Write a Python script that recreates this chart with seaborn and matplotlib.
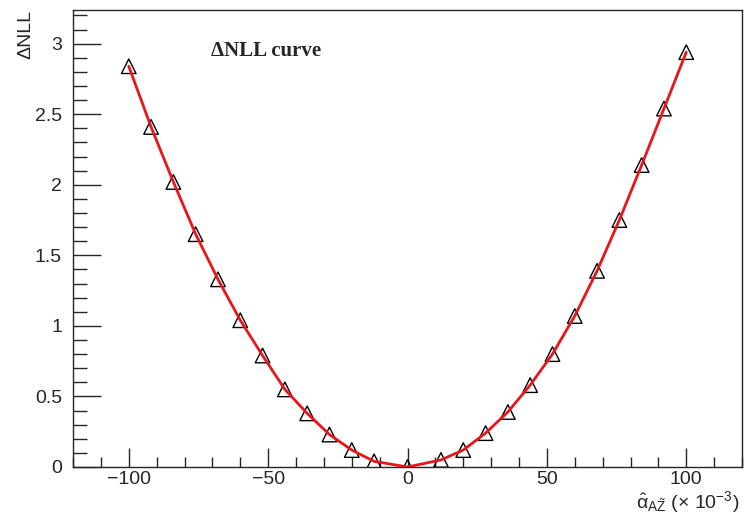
import numpy as np
import pandas as pd
import matplotlib.pyplot as plt
import seaborn as sns
from matplotlib.ticker import MultipleLocator

# scan points
alpha = [-100, -92, -84, -76, -68, -60, -52, -44, -36, -28, -20, -12, 0,
         12, 20, 28, 36, 44, 52, 60, 68, 76, 84, 92, 100]
dnll = [2.84, 2.41, 2.02, 1.65, 1.33, 1.04, 0.79, 0.55, 0.38, 0.23, 0.12, 0.04, 0.0,
        0.05, 0.12, 0.24, 0.39, 0.58, 0.80, 1.07, 1.39, 1.75, 2.14, 2.54, 2.94]

df = pd.DataFrame({"alpha": alpha, "dnll": dnll})

sns.set_style("ticks")
plt.rcParams['font.family'] = ['Liberation Sans', 'DejaVu Sans']
plt.rcParams['mathtext.fontset'] = 'custom'
plt.rcParams['mathtext.rm'] = 'Liberation Sans'
plt.rcParams['mathtext.it'] = 'Liberation Sans'

fig = plt.figure(figsize=(7.45, 5.16), dpi=100)
ax = fig.add_axes([0.098, 0.095, 0.898, 0.886])

sns.scatterplot(data=df, x="alpha", y="dnll", ax=ax, marker="^", s=110,
                facecolor="none", edgecolor="black", linewidth=1.0, zorder=2)
sns.lineplot(data=df, x="alpha", y="dnll", ax=ax, color="#e8161b", lw=2.0,
             zorder=3)

ax.set_xlim(-120, 120)
ax.set_ylim(0, 3.24)
ax.xaxis.set_major_locator(MultipleLocator(50))
ax.xaxis.set_minor_locator(MultipleLocator(10))
ax.yaxis.set_major_locator(MultipleLocator(0.5))
ax.yaxis.set_minor_locator(MultipleLocator(0.1))
ax.tick_params(axis="x", which="major", direction="in", length=14, width=1,
               labelsize=14, pad=3)
ax.tick_params(axis="x", which="minor", direction="in", length=7, width=1)
ax.tick_params(axis="y", which="major", direction="in", length=20, width=1,
               labelsize=14, pad=8)
ax.tick_params(axis="y", which="minor", direction="in", length=10, width=1)
ax.yaxis.set_major_formatter(plt.FuncFormatter(lambda v, p: f"{v:g}"))
ax.xaxis.set_major_formatter(plt.FuncFormatter(lambda v, p: f"{v:g}".replace("-", "\u2212")))
for s in ax.spines.values():
    s.set_linewidth(1)
    s.set_visible(True)

ax.set_xlabel("")
ax.set_ylabel("")
fig.text(0.993, 0.016, r"$\hat{\alpha}_{A\tilde{Z}}$ ($\times$ 10$^{-3}$)",
         ha="right", va="baseline", fontsize=14)
fig.text(0.035, 0.981, "\u0394NLL", rotation=90, ha="center", va="top",
         fontsize=14)
ax.text(-70.5, 2.95, "\u0394NLL curve", family="Liberation Serif",
        fontweight="bold", fontsize=15, ha="left", va="center")

fig.savefig("out.png", dpi=100)
